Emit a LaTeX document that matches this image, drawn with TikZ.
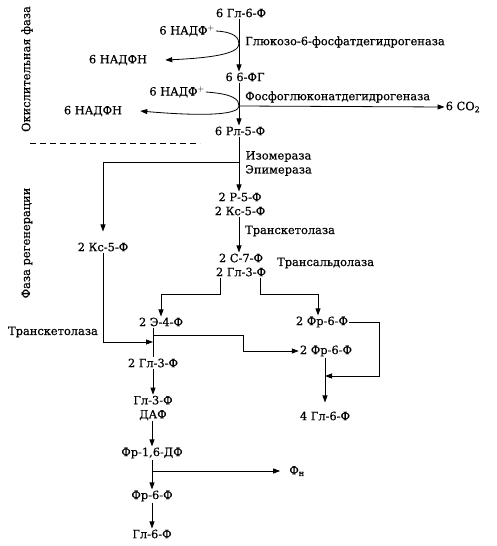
\documentclass[tikz,border=0pt]{standalone}
\usepackage{fontspec}
\setmainfont{DejaVu Serif}[FakeBold=0.5]
\usetikzlibrary{arrows.meta, positioning, calc}

\begin{document}
\begin{tikzpicture}[x=1pt, y=-1pt,
  lbl/.style={inner sep=1pt, align=center, font=\fontsize{11.4}{14}\selectfont},
  enz/.style={lbl, anchor=west},
  arrow/.style={-{Triangle[length=7pt, width=5pt]}, line width=0.8pt},
  link/.style={line width=0.8pt}
]
  \useasboundingbox (0,0) rectangle (496,546);

  % phase labels
  \node[lbl, rotate=90] (oxphase) at (27,69) {Окислительная фаза};
  \node[lbl, rotate=90] (regphase) at (27,243) {Фаза регенерации};
  \draw[dashed, dash pattern=on 6pt off 4pt, line width=0.8pt] (30,143) -- (200,143);

  % oxidative phase
  \node[lbl] (g6f) at (241,13) {6 Гл-6-Ф};
  \node[lbl] (pg) at (245,77) {6 6-ФГ};
  \node[lbl] (rl5f) at (240,131) {6 Рл-5-Ф};
  \node[lbl] (nadpA) at (187,31) {6 НАДФ$^{+}$};
  \node[lbl] (nadphA) at (118,60) {6 НАДФН};
  \node[lbl] (nadpB) at (177,92) {6 НАДФ$^{+}$};
  \node[lbl] (nadphB) at (93,111) {6 НАДФН};
  \node[enz] (dehA) at (244,42) {Глюкозо-6-фосфатдегидрогеназа};
  \node[enz] (dehB) at (244,97) {Фосфоглюконатдегидрогеназа};
  \node[lbl] (co2) at (463,107) {6 CO\textsubscript{2}};
  \coordinate (tipA) at (239,44);
  \coordinate (tipB) at (239,106);
  \coordinate (spine) at (239,0);

  \draw[arrow] (spine |- g6f.south) -- (spine |- pg.north);
  \draw[arrow] (nadpA.east) .. controls (235,32) and (239,38) .. (tipA)
    .. controls (239,54) and (210,58) .. ([xshift=17pt]nadphA.east);
  \draw[arrow] (spine |- pg.south) -- (spine |- rl5f.north);
  \draw[arrow] (nadpB.east) .. controls (235,94) and (239,100) .. (tipB)
    .. controls (239,114) and (210,117) .. ([xshift=17pt]nadphB.east);
  \draw[arrow] (tipB) -- (co2.west);

  % regeneration phase
  \node[lbl] (r5f) at (240,204) {2 Р-5-Ф\\2 Кс-5-Ф};
  \node[enz] (iso) at (244,163.5) {Изомераза\\Эпимераза};
  \node[lbl] (ks5f) at (103,247) {2 Кс-5-Ф};
  \node[enz] (tkA) at (244,231) {Транскетолаза};
  \node[lbl] (s7f) at (241,265) {2 С-7-Ф\\2 Гл-3-Ф};
  \node[enz] (tald) at (276,263) {Трансальдолаза};
  \node[lbl] (e4f) at (161,322) {2 Э-4-Ф};
  \node[lbl] (fr6fA) at (322,322) {2 Фр-6-Ф};
  \node[lbl] (tkB) at (53,332) {Транскетолаза};
  \node[lbl] (fr6fB) at (326,351) {2 Фр-6-Ф};
  \node[lbl] (gl3f) at (153,363) {2 Гл-3-Ф};
  \node[lbl] (gl3dap) at (153,408) {Гл-3-Ф\\ДАФ};
  \node[lbl] (g6fFour) at (325,416) {4 Гл-6-Ф};
  \node[lbl] (fr16) at (152,453) {Фр-1,6-ДФ};
  \node[lbl] (fn) at (297,471) {Ф\textsubscript{н}};
  \node[lbl] (fr6f) at (152,496) {Фр-6-Ф};
  \node[lbl] (g6fEnd) at (152,534) {Гл-6-Ф};
  \coordinate (split) at (239,162);
  \coordinate (joinL) at (153,342);
  \coordinate (joinR) at (153,335);
  \coordinate (merge) at (325,376);
  \coordinate (pout) at (152,471);

  \draw[arrow] (spine |- rl5f.south) -- (spine |- r5f.north);
  \draw[arrow, shorten >=10pt] (split) -| (ks5f.north);
  \draw[arrow] (spine |- r5f.south) -- (spine |- s7f.north);
  \draw[arrow] ([xshift=-21pt]s7f.south) -- ++(0,17) -| (e4f.north);
  \draw[arrow] ([xshift=19pt]s7f.south) -- ++(0,17) -| ([xshift=-4pt]fr6fA.north);
  \draw[arrow] (ks5f.south) |- (joinL);
  \draw[link] (e4f.south -| joinL) -- (gl3f.north -| joinL);
  \draw[arrow] (joinR) -- ++(90,0) |- (fr6fB.west);
  \draw[arrow] (fr6fA.east) -- ++(30,0) |- (merge);
  \draw[arrow, shorten >=8pt] (fr6fB.south -| merge) -- (g6fFour.north -| merge);
  \draw[arrow] (gl3f) -- (gl3f |- gl3dap.north);
  \draw[arrow] (fr16 |- gl3dap.south) -- (fr16.north);
  \draw[arrow] (fr16) -- (fr16 |- fr6f.north);
  \draw[arrow] (pout) -- ([xshift=-8pt]fn.west);
  \draw[arrow] (fr6f) -- (fr6f |- g6fEnd.north);
\end{tikzpicture}
\end{document}
